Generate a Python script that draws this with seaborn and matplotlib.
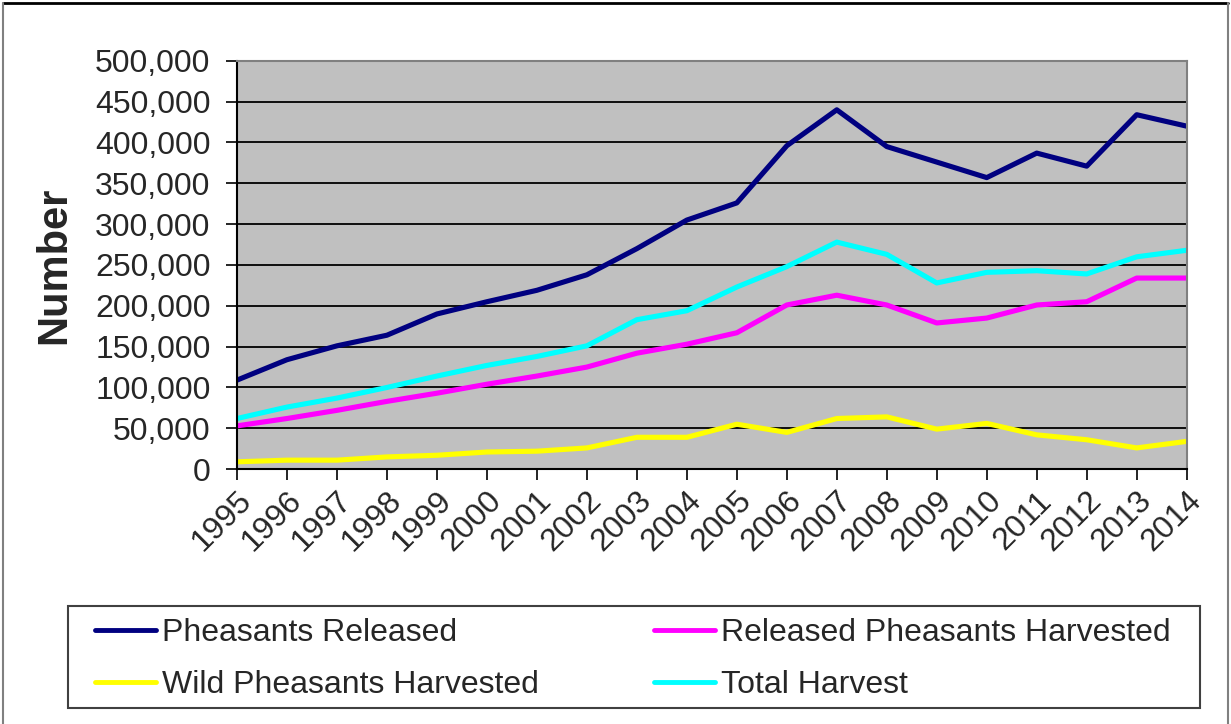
import pandas as pd
import seaborn as sns
import matplotlib.pyplot as plt
from matplotlib.ticker import FuncFormatter, MultipleLocator

years = list(range(1995, 2015))
released = [109000, 134000, 151000, 164000, 190000, 205000, 219000, 238000, 270000, 305000,
            326000, 396000, 440000, 395000, 376000, 357000, 387000, 371000, 434000, 420000]
released_harvested = [53000, 62000, 72000, 83000, 93000, 104000, 114000, 125000, 142000, 153000,
                      167000, 201000, 213000, 201000, 179000, 185000, 201000, 205000, 234000, 234000]
wild_harvested = [9000, 11000, 11000, 15000, 17000, 21000, 22000, 26000, 39000, 39000,
                  55000, 45000, 62000, 64000, 49000, 56000, 42000, 36000, 26000, 34000]
total_harvest = [62000, 76000, 87000, 100000, 114000, 127000, 138000, 151000, 183000, 194000,
                 223000, 248000, 278000, 263000, 228000, 241000, 243000, 239000, 260000, 268000]

series = {
    "Pheasants Released": released,
    "Released Pheasants Harvested": released_harvested,
    "Wild Pheasants Harvested": wild_harvested,
    "Total Harvest": total_harvest,
}
colors = {
    "Pheasants Released": "#000080",
    "Released Pheasants Harvested": "#FF00FF",
    "Wild Pheasants Harvested": "#FFFF00",
    "Total Harvest": "#00FFFF",
}

df = pd.DataFrame(series, index=years).reset_index(names="Year")
long_df = df.melt(id_vars="Year", var_name="Series", value_name="Number")

sns.set_style("white")
plt.rcParams['font.family'] = ['Liberation Sans', 'DejaVu Sans']

fig = plt.figure(figsize=(12.31, 7.24), dpi=100)
ax = fig.add_axes([0.1925, 0.352, 0.7715, 0.564])
ax.set_facecolor("#C0C0C0")

sns.lineplot(data=long_df, x="Year", y="Number", hue="Series", palette=colors,
             hue_order=list(series.keys()), linewidth=3.7, ax=ax, legend=False)

ax.set_xlim(1995, 2014)
ax.set_ylim(0, 500000)
ax.yaxis.set_major_locator(MultipleLocator(50000))
ax.yaxis.set_major_formatter(FuncFormatter(lambda v, p: f"{int(v):,}"))
ax.set_xticks(years)
ax.set_xticklabels([str(y) for y in years], rotation=45, ha="right", va="top",
                   rotation_mode="anchor")
ax.grid(axis="y", color="black", linewidth=1.3)
ax.set_axisbelow(True)
ax.tick_params(axis="y", labelsize=23, direction="out", length=8, width=1.2, color="black",
               left=True, pad=11)
ax.tick_params(axis="x", labelsize=23, direction="out", length=8, width=1.2, color="black",
               bottom=True, pad=4)
for s in ax.spines.values():
    s.set_color("#808080")
    s.set_linewidth(1.5)
ax.spines["left"].set_color("black")
ax.spines["bottom"].set_color("black")

ax.set_xlabel("")
ax.set_ylabel("Number", fontsize=30, fontweight="bold")
ax.yaxis.set_label_coords(-0.171, 0.5)

# legend is filled column by column, so order handles to read row by row
order = ["Pheasants Released", "Wild Pheasants Harvested",
         "Released Pheasants Harvested", "Total Harvest"]
handles = [plt.Line2D([0], [0], color=colors[k], linewidth=3.5) for k in order]
leg = fig.legend(handles, order, loc="upper left", bbox_to_anchor=(95 / 1231, 1 - 618 / 724),
                 ncol=2, fontsize=23, frameon=False,
                 handlelength=1.9, handletextpad=0.2, borderaxespad=0, labelspacing=0.7,
                 columnspacing=3.6, borderpad=0)

# legend box drawn separately so the padding matches the original
fig.add_artist(plt.Rectangle((68 / 1231, 1 - 708 / 724), (1200 - 68) / 1231, 102 / 724,
                             transform=fig.transFigure, fill=False,
                             edgecolor="#404040", linewidth=1.5))

# outer frame: black top, grey sides
fig.add_artist(plt.Line2D([3 / 1231, 1228 / 1231], [1 - 3 / 724, 1 - 3 / 724],
                          transform=fig.transFigure, color="black", linewidth=2))
for xf in (3 / 1231, 1228 / 1231):
    fig.add_artist(plt.Line2D([xf, xf], [0, 1 - 3 / 724], transform=fig.transFigure,
                              color="#808080", linewidth=1.5))

fig.savefig("out.png", dpi=100)
